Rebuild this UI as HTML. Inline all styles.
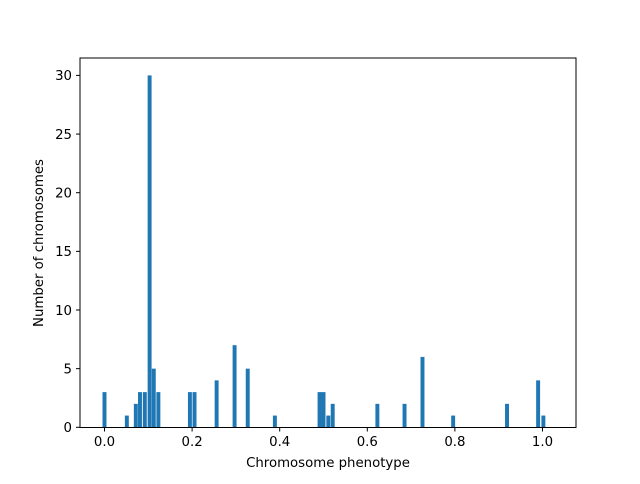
<!DOCTYPE html>
<html><head><meta charset="utf-8"><style>
body{margin:0;background:#fff;font-family:"DejaVu Sans","Liberation Sans",sans-serif}
</style></head><body>
<svg width="640" height="480" xmlns="http://www.w3.org/2000/svg" font-family="DejaVu Sans, Liberation Sans, sans-serif">
<g id="bars"></g>
<rect x="80" y="58" width="496" height="369.5" fill="none" stroke="#000" stroke-width="1"/>
<g id="xt"></g>
<g id="yt"></g>
<text x="328" y="467" font-size="13.3" text-anchor="middle">Chromosome phenotype</text>
<text transform="translate(43,243) rotate(-90)" font-size="13.3" text-anchor="middle">Number of chromosomes</text>
</svg>
<script>
const phenotypes=[0,0.051,0.0715,0.081,0.092,0.103,0.1125,0.123,0.195,0.2055,0.256,0.297,0.327,0.389,0.491,0.5,0.511,0.521,0.623,0.685,0.726,0.796,0.919,0.990,1.002];
const counts=[3,1,2,3,3,30,5,3,3,3,4,7,5,1,3,3,1,2,2,2,6,1,2,4,1];
const xTicks=[0,0.2,0.4,0.6,0.8,1.0];
const xTickLabels=["0.0","0.2","0.4","0.6","0.8","1.0"];
const yTicks=[0,5,10,15,20,25,30];
const barWidth=0.009;
const NS="http://www.w3.org/2000/svg";
function sx(v){return 104.5+v*438;}
function sy(v){return 427.3-v*11.73;}
const bars=document.getElementById('bars');
phenotypes.forEach((p,i)=>{
  const r=document.createElementNS(NS,'rect');
  
  
  const w=barWidth*438;
  r.setAttribute('x',sx(p)-w/2);r.setAttribute('width',w);
  r.setAttribute('y',sy(counts[i]));r.setAttribute('height',sy(0)-sy(counts[i]));
  r.setAttribute('fill','#1f77b4');
  bars.appendChild(r);
});
const xt=document.getElementById('xt');
xTicks.forEach((t,i)=>{
  const l=document.createElementNS(NS,'line');
  
  
  l.setAttribute('x1',sx(t));l.setAttribute('x2',sx(t));l.setAttribute('y1',427.5);l.setAttribute('y2',431.5);l.setAttribute('stroke','#000');
  xt.appendChild(l);
  const tx=document.createElementNS(NS,'text');
  
  
  tx.setAttribute('x',sx(t));tx.setAttribute('y',446);tx.setAttribute('font-size','13.3');tx.setAttribute('text-anchor','middle');
  tx.textContent=xTickLabels[i];xt.appendChild(tx);
});
const yt=document.getElementById('yt');
yTicks.forEach(t=>{
  const l=document.createElementNS(NS,'line');
  
  
  l.setAttribute('x1',76);l.setAttribute('x2',80);l.setAttribute('y1',sy(t));l.setAttribute('y2',sy(t));l.setAttribute('stroke','#000');
  yt.appendChild(l);
  const tx=document.createElementNS(NS,'text');
  
  
  tx.setAttribute('x',72);tx.setAttribute('y',sy(t)+4.8);tx.setAttribute('font-size','13.3');tx.setAttribute('text-anchor','end');
  tx.textContent=String(t);yt.appendChild(tx);
});
</script>
</body></html>
